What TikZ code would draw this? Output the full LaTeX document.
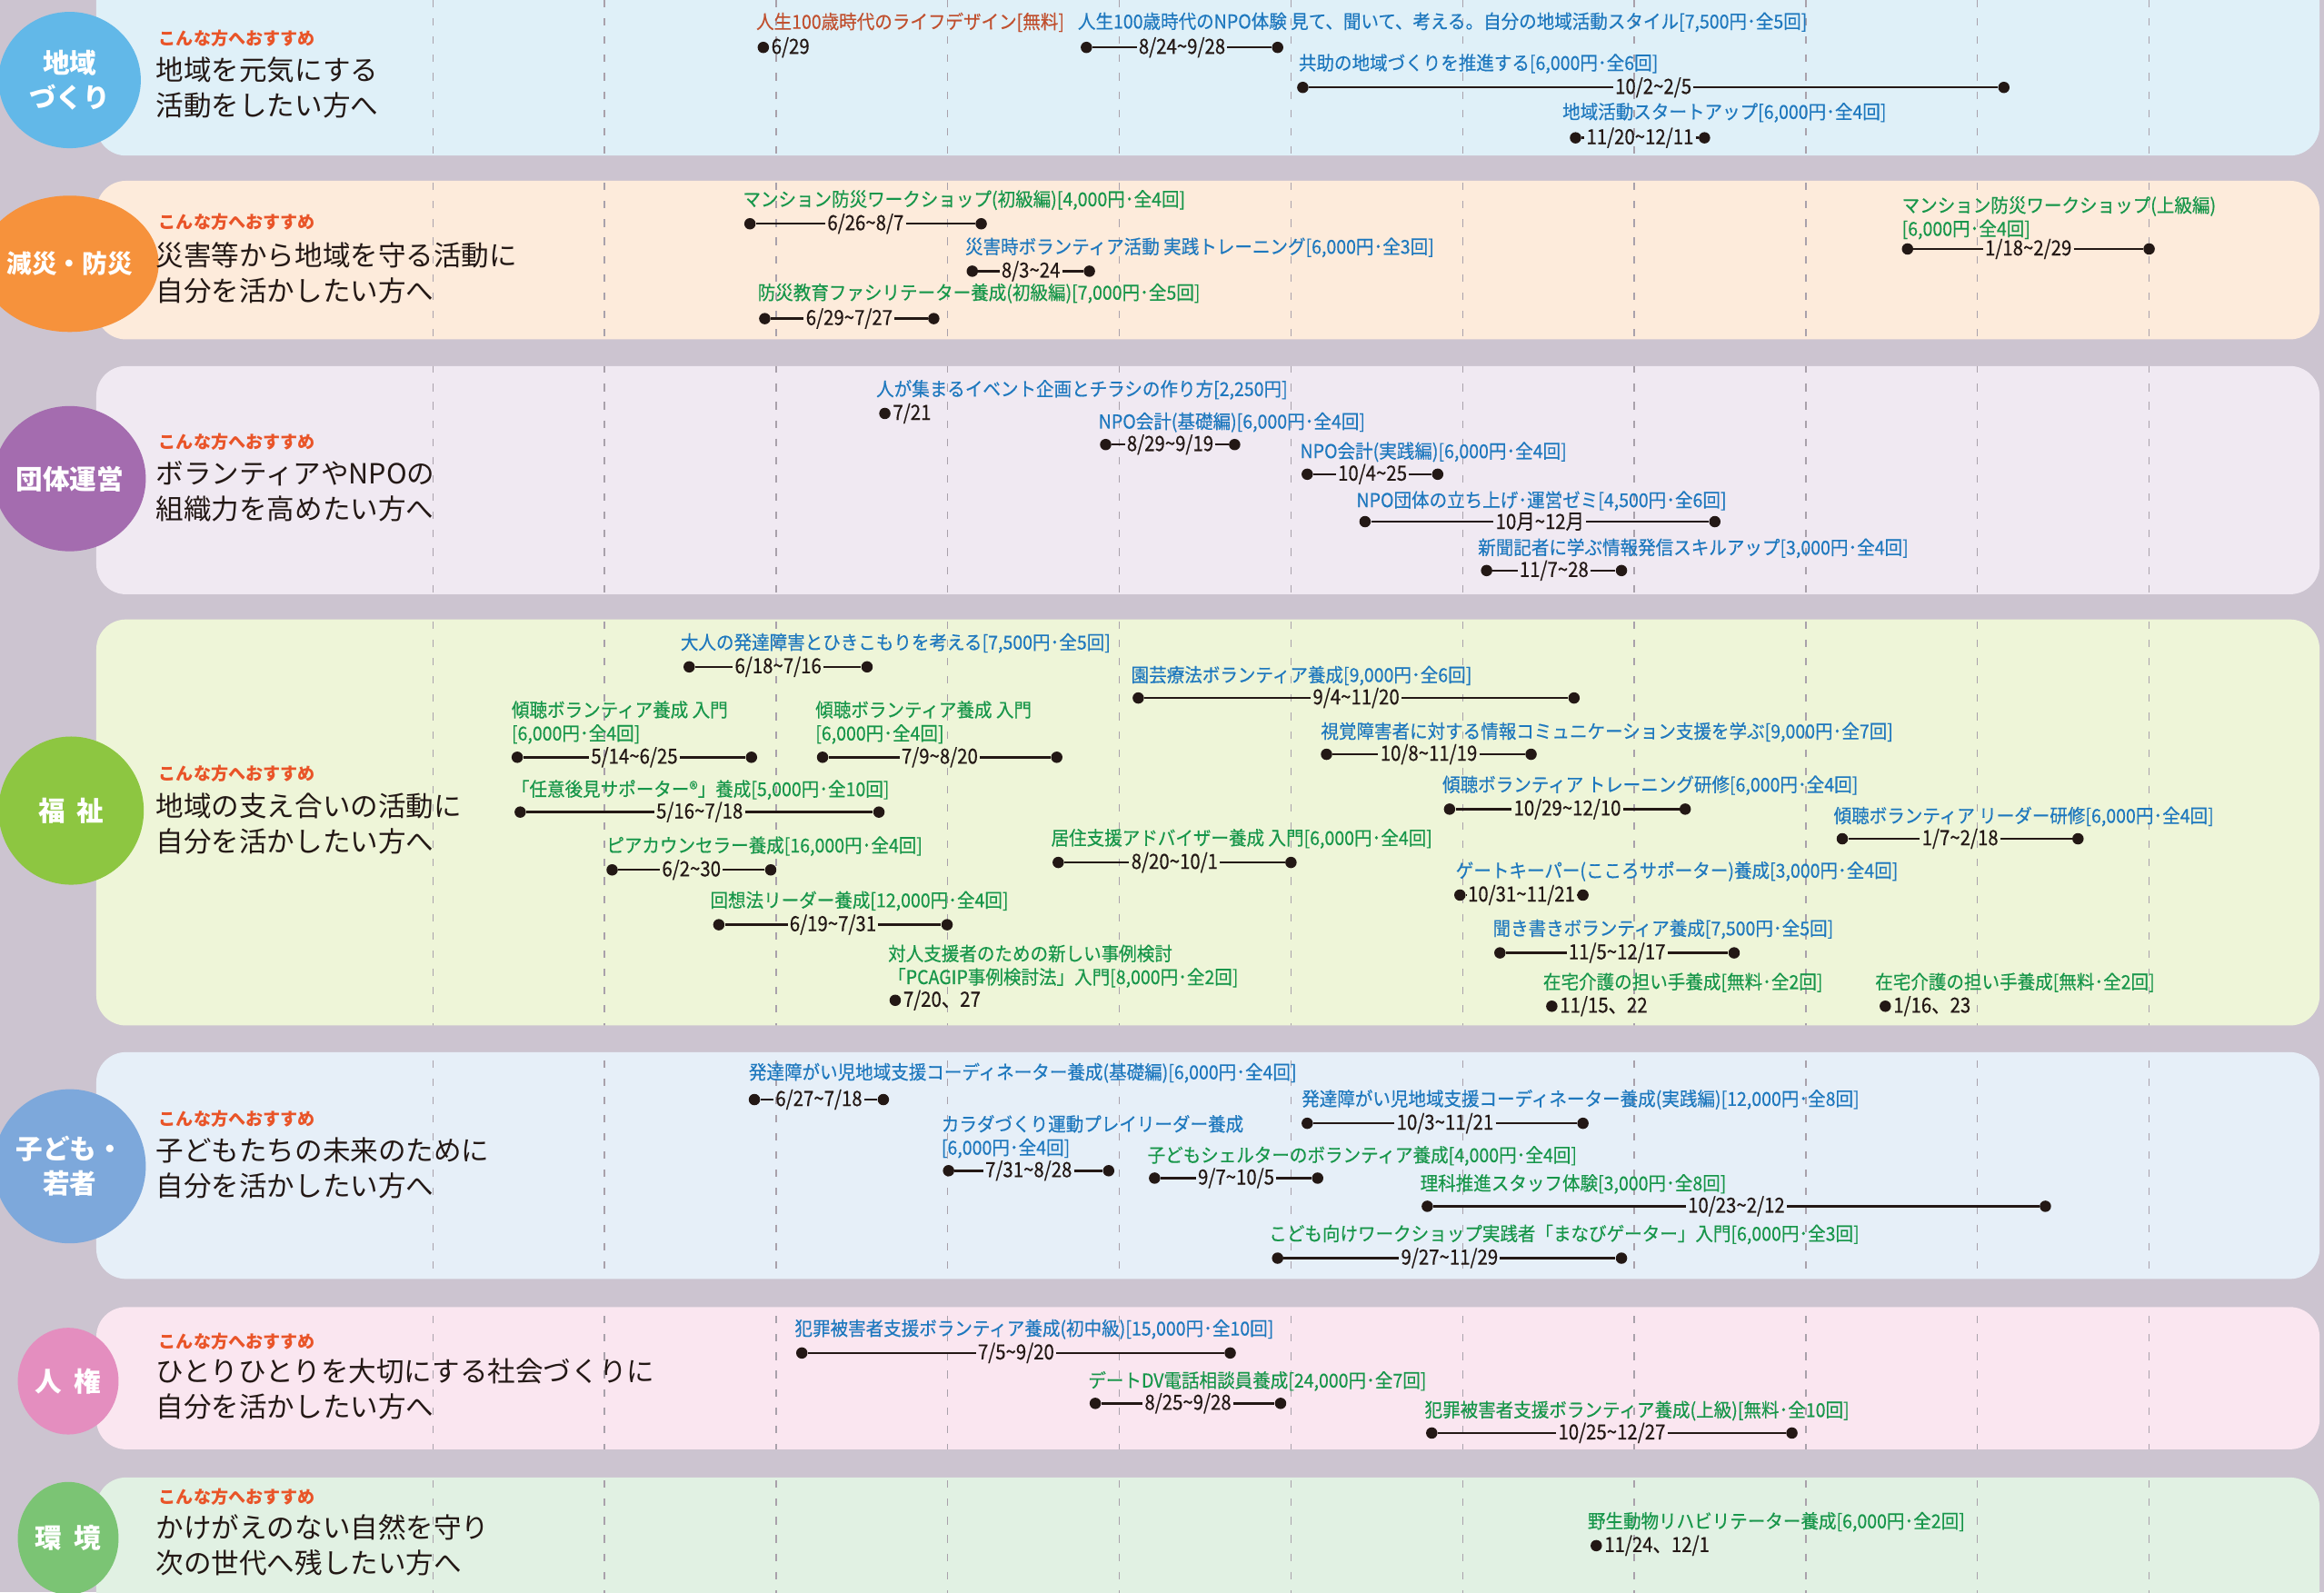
\documentclass[tikz,border=0pt]{standalone}
\usepackage{fontspec}
\setmainfont{Noto Sans CJK JP}
\newfontfamily\coursefont{Noto Sans CJK JP}[FakeStretch=0.93, FakeBold=0.35]
\newfontfamily\datefont{Noto Sans CJK JP}[FakeStretch=0.89, FakeBold=0.4]
\usetikzlibrary{shapes.geometric}
\definecolor{bgc}{HTML}{CCC4D0}
\definecolor{rowA}{HTML}{DFF0F8}
\definecolor{rowB}{HTML}{FDEBDB}
\definecolor{rowC}{HTML}{F0E9F2}
\definecolor{rowD}{HTML}{EEF5D8}
\definecolor{rowE}{HTML}{E6EFF8}
\definecolor{rowF}{HTML}{FAE6F0}
\definecolor{rowG}{HTML}{E1F1E3}
\definecolor{themeA}{HTML}{62B8E8}
\definecolor{themeB}{HTML}{F6923C}
\definecolor{themeC}{HTML}{A46CAF}
\definecolor{themeD}{HTML}{8DC641}
\definecolor{themeE}{HTML}{7DA8DB}
\definecolor{themeF}{HTML}{E48EBF}
\definecolor{themeG}{HTML}{7BC474}
\definecolor{cblue}{HTML}{1E78BE}
\definecolor{cgreen}{HTML}{17964A}
\definecolor{cred}{HTML}{C0502F}
\definecolor{askc}{HTML}{E95428}
\definecolor{inkc}{HTML}{231815}
\definecolor{gridc}{HTML}{A9A1AB}
\begin{document}
\begin{tikzpicture}[x=0.3mm, y=-0.3mm,
        course/.style = {anchor=west, inner sep=0pt, align=left,
                font=\coursefont\fontsize{11}{13.5}\selectfont},
        bullet/.style = {circle, fill=inkc, inner sep=0pt, minimum size=2.3mm},
        datelbl/.style = {inner xsep=1pt, inner ysep=0pt, text=inkc,
                font=\datefont\fontsize{12}{12}\selectfont},
        tline/.style = {draw=inkc, line width=0.45mm},
        theme/.style = {ellipse, inner sep=0pt, text=white, align=center,
                font=\bfseries\fontsize{15.5}{20}\selectfont},
        recom/.style = {anchor=west, inner sep=0pt, text=askc,
                font=\bfseries\fontsize{10}{12}\selectfont},
        target/.style = {anchor=west, inner sep=0pt, align=left, text=inkc,
                font=\fontsize{16}{20.5}\selectfont},
        monthline/.style = {draw=gridc, line width=0.25mm, dash pattern=on 1.5mm off 2.2mm}]
    % background and rows
    \fill[bgc] (0,0) rectangle (1568,1074.4);
    \useasboundingbox (0,0) rectangle (1568,1074.4);
    \fill[rowA, rounded corners=6mm] (65,-40) rectangle (1565,105);
    \fill[rowB, rounded corners=6mm] (65,122) rectangle (1565,229);
    \fill[rowC, rounded corners=6mm] (65,247) rectangle (1565,401);
    \fill[rowD, rounded corners=6mm] (65,418) rectangle (1565,692);
    \fill[rowE, rounded corners=6mm] (65,710) rectangle (1565,863);
    \fill[rowF, rounded corners=6mm] (65,882) rectangle (1565,978);
    \fill[rowG, rounded corners=6mm] (65,997) rectangle (1565,1110);
    \begin{scope}
        \clip[rounded corners=6mm] (65,-40) rectangle (1565,105) (65,122) rectangle (1565,229)
            (65,247) rectangle (1565,401) (65,418) rectangle (1565,692) (65,710) rectangle (1565,863)
            (65,882) rectangle (1565,978) (65,997) rectangle (1565,1110);
        \foreach \k in {0,...,10}
            \draw[monthline] ({292+115.8*\k},0) -- ({292+115.8*\k},1080);
    \end{scope}

    % themes
    \node[theme, fill=themeA, minimum width=28.8mm, minimum height=27.6mm] (thA) at (47,54) {地域\\づくり};
    \node[theme, fill=themeB, minimum width=28.8mm, minimum height=27.6mm,
        font=\bfseries\fontsize{14.5}{20}\selectfont] (thB) at (47,178) {減災・防災};
    \node[theme, fill=themeC, minimum width=29.4mm, minimum height=29.4mm] (thC) at (47,323) {団体運営};
    \node[theme, fill=themeD, minimum width=29.4mm, minimum height=30mm] (thD) at (48,547) {福\hspace{0.45em}祉};
    \node[theme, fill=themeE, minimum width=28.8mm, minimum height=31.2mm] (thE) at (47,787) {子ども・\\若者};
    \node[theme, fill=themeF, minimum width=20.4mm, minimum height=21.6mm] (thF) at (46,932) {人\hspace{0.45em}権};
    \node[theme, fill=themeG, minimum width=20.4mm, minimum height=22.8mm] (thG) at (46,1038) {環\hspace{0.45em}境};

    \node[recom] (rcA) at (107,26) {こんな方へおすすめ};
    \node[target] (tgA) at (105,59) {地域を元気にする\\活動をしたい方へ};
    \node[recom] (rcB) at (107,150) {こんな方へおすすめ};
    \node[target] (tgB) at (105,184) {災害等から地域を守る活動に\\自分を活かしたい方へ};
    \node[recom] (rcC) at (107,298) {こんな方へおすすめ};
    \node[target] (tgC) at (105,331.5) {ボランティアやNPOの\\組織力を高めたい方へ};
    \node[recom] (rcD) at (107,522) {こんな方へおすすめ};
    \node[target] (tgD) at (105,556) {地域の支え合いの活動に\\自分を活かしたい方へ};
    \node[recom] (rcE) at (107,755) {こんな方へおすすめ};
    \node[target] (tgE) at (105,788) {子どもたちの未来のために\\自分を活かしたい方へ};
    \node[recom] (rcF) at (107,905) {こんな方へおすすめ};
    \node[target] (tgF) at (105,937.5) {ひとりひとりを大切にする社会づくりに\\自分を活かしたい方へ};
    \node[recom] (rcG) at (107,1010) {こんな方へおすすめ};
    \node[target] (tgG) at (105,1042.5) {かけがえのない自然を守り\\次の世代へ残したい方へ};

    % 地域づくり
    \node[course, text=cred] (t1) at (510,15) {人生100歳時代のライフデザイン[無料]};
    \node[bullet] (s1) at (515,32) {}; \node[datelbl, anchor=west] (d1) at (s1.east) {6/29};
    \node[course, text=cblue] (t2) at (727,15) {人生100歳時代のNPO体験 見て、聞いて、考える。自分の地域活動スタイル[7,500円･全5回]};
    \node[bullet] (s2) at (733,32) {}; \node[bullet] (e2) at (862,32) {};
    \path (s2) -- node[datelbl] (d2) {8/24\textasciitilde9/28} (e2); \draw[tline] (s2) -- (d2) -- (e2);
    \node[course, text=cblue] (t3) at (876,43) {共助の地域づくりを推進する[6,000円･全6回]};
    \node[bullet] (s3) at (879,59) {}; \node[bullet] (e3) at (1352,59) {};
    \path (s3) -- node[datelbl] (d3) {10/2\textasciitilde2/5} (e3); \draw[tline] (s3) -- (d3) -- (e3);
    \node[course, text=cblue] (t4) at (1054,76) {地域活動スタートアップ[6,000円･全4回]};
    \node[bullet] (s4) at (1063,93) {}; \node[bullet] (e4) at (1150,93) {};
    \path (s4) -- node[datelbl] (d4) {11/20\textasciitilde12/11} (e4); \draw[tline] (s4) -- (d4) -- (e4);

    % 減災・防災
    \node[course, text=cgreen] (t5) at (501,135) {マンション防災ワークショップ(初級編)[4,000円･全4回]};
    \node[bullet] (s5) at (506,151) {}; \node[bullet] (e5) at (662,151) {};
    \path (s5) -- node[datelbl] (d5) {6/26\textasciitilde8/7} (e5); \draw[tline] (s5) -- (d5) -- (e5);
    \node[course, text=cblue] (t6) at (651,167) {災害時ボランティア活動 実践トレーニング[6,000円･全3回]};
    \node[bullet] (s6) at (656,183) {}; \node[bullet] (e6) at (735,183) {};
    \path (s6) -- node[datelbl] (d6) {8/3\textasciitilde24} (e6); \draw[tline] (s6) -- (d6) -- (e6);
    \node[course, text=cgreen] (t7) at (511,198) {防災教育ファシリテーター養成(初級編)[7,000円･全5回]};
    \node[bullet] (s7) at (516,215) {}; \node[bullet] (e7) at (630,215) {};
    \path (s7) -- node[datelbl] (d7) {6/29\textasciitilde7/27} (e7); \draw[tline] (s7) -- (d7) -- (e7);
    \node[course, text=cgreen] (t8) at (1283,147) {マンション防災ワークショップ(上級編)\\{}[6,000円･全4回]};
    \node[bullet] (s8) at (1287,168) {}; \node[bullet] (e8) at (1450,168) {};
    \path (s8) -- node[datelbl] (d8) {1/18\textasciitilde2/29} (e8); \draw[tline] (s8) -- (d8) -- (e8);

    % 団体運営
    \node[course, text=cblue] (t9) at (591,263) {人が集まるイベント企画とチラシの作り方[2,250円]};
    \node[bullet] (s9) at (597,279) {}; \node[datelbl, anchor=west] (d9) at (s9.east) {7/21};
    \node[course, text=cblue] (t10) at (741,285) {NPO会計(基礎編)[6,000円･全4回]};
    \node[bullet] (s10) at (746,300) {}; \node[bullet] (e10) at (833,300) {};
    \path (s10) -- node[datelbl] (d10) {8/29\textasciitilde9/19} (e10); \draw[tline] (s10) -- (d10) -- (e10);
    \node[course, text=cblue] (t11) at (877,305) {NPO会計(実践編)[6,000円･全4回]};
    \node[bullet] (s11) at (882,320) {}; \node[bullet] (e11) at (970,320) {};
    \path (s11) -- node[datelbl] (d11) {10/4\textasciitilde25} (e11); \draw[tline] (s11) -- (d11) -- (e11);
    \node[course, text=cblue] (t12) at (915,338) {NPO団体の立ち上げ･運営ゼミ[4,500円･全6回]};
    \node[bullet] (s12) at (921,352) {}; \node[bullet] (e12) at (1157,352) {};
    \path (s12) -- node[datelbl] (d12) {10月\textasciitilde12月} (e12); \draw[tline] (s12) -- (d12) -- (e12);
    \node[course, text=cblue] (t13) at (997,370) {新聞記者に学ぶ情報発信スキルアップ[3,000円･全4回]};
    \node[bullet] (s13) at (1003,385) {}; \node[bullet] (e13) at (1094,385) {};
    \path (s13) -- node[datelbl] (d13) {11/7\textasciitilde28} (e13); \draw[tline] (s13) -- (d13) -- (e13);

    % 福祉
    \node[course, text=cblue] (t14) at (459,434) {大人の発達障害とひきこもりを考える[7,500円･全5回]};
    \node[bullet] (s14) at (465,450) {}; \node[bullet] (e14) at (585,450) {};
    \path (s14) -- node[datelbl] (d14) {6/18\textasciitilde7/16} (e14); \draw[tline] (s14) -- (d14) -- (e14);
    \node[course, text=cblue] (t15) at (763,456) {園芸療法ボランティア養成[9,000円･全6回]};
    \node[bullet] (s15) at (768,471) {}; \node[bullet] (e15) at (1062,471) {};
    \path (s15) -- node[datelbl] (d15) {9/4\textasciitilde11/20} (e15); \draw[tline] (s15) -- (d15) -- (e15);
    \node[course, text=cgreen] (t16) at (345,487.5) {傾聴ボランティア養成 入門\\{}[6,000円･全4回]};
    \node[bullet] (s16) at (349,511) {}; \node[bullet] (e16) at (507,511) {};
    \path (s16) -- node[datelbl] (d16) {5/14\textasciitilde6/25} (e16); \draw[tline] (s16) -- (d16) -- (e16);
    \node[course, text=cgreen] (t17) at (550,487.5) {傾聴ボランティア養成 入門\\{}[6,000円･全4回]};
    \node[bullet] (s17) at (555,511) {}; \node[bullet] (e17) at (713,511) {};
    \path (s17) -- node[datelbl] (d17) {7/9\textasciitilde8/20} (e17); \draw[tline] (s17) -- (d17) -- (e17);
    \node[course, text=cblue] (t18) at (891,494) {視覚障害者に対する情報コミュニケーション支援を学ぶ[9,000円･全7回]};
    \node[bullet] (s18) at (895,509) {}; \node[bullet] (e18) at (1033,509) {};
    \path (s18) -- node[datelbl] (d18) {10/8\textasciitilde11/19} (e18); \draw[tline] (s18) -- (d18) -- (e18);
    \node[course, text=cgreen] (t19) at (345,533) {「任意後見サポーター®」養成[5,000円･全10回]};
    \node[bullet] (s19) at (351,548) {}; \node[bullet] (e19) at (593,548) {};
    \path (s19) -- node[datelbl] (d19) {5/16\textasciitilde7/18} (e19); \draw[tline] (s19) -- (d19) -- (e19);
    \node[course, text=cblue] (t20) at (973,530) {傾聴ボランティア トレーニング研修[6,000円･全4回]};
    \node[bullet] (s20) at (978,546) {}; \node[bullet] (e20) at (1137,546) {};
    \path (s20) -- node[datelbl] (d20) {10/29\textasciitilde12/10} (e20); \draw[tline] (s20) -- (d20) -- (e20);
    \node[course, text=cblue] (t21) at (1237,551) {傾聴ボランティア リーダー研修[6,000円･全4回]};
    \node[bullet] (s21) at (1243,566) {}; \node[bullet] (e21) at (1402,566) {};
    \path (s21) -- node[datelbl] (d21) {1/7\textasciitilde2/18} (e21); \draw[tline] (s21) -- (d21) -- (e21);
    \node[course, text=cgreen] (t22) at (409,571) {ピアカウンセラー養成[16,000円･全4回]};
    \node[bullet] (s22) at (413,587) {}; \node[bullet] (e22) at (520,587) {};
    \path (s22) -- node[datelbl] (d22) {6/2\textasciitilde30} (e22); \draw[tline] (s22) -- (d22) -- (e22);
    \node[course, text=cgreen] (t23) at (709,566) {居住支援アドバイザー養成 入門[6,000円･全4回]};
    \node[bullet] (s23) at (714,582) {}; \node[bullet] (e23) at (871,582) {};
    \path (s23) -- node[datelbl] (d23) {8/20\textasciitilde10/1} (e23); \draw[tline] (s23) -- (d23) -- (e23);
    \node[course, text=cblue] (t24) at (982,588) {ゲートキーパー(こころサポーター)養成[3,000円･全4回]};
    \node[bullet] (s24) at (985,604) {}; \node[bullet] (e24) at (1068,604) {};
    \path (s24) -- node[datelbl] (d24) {10/31\textasciitilde11/21} (e24); \draw[tline] (s24) -- (d24) -- (e24);
    \node[course, text=cgreen] (t25) at (479,608) {回想法リーダー養成[12,000円･全4回]};
    \node[bullet] (s25) at (485,624) {}; \node[bullet] (e25) at (639,624) {};
    \path (s25) -- node[datelbl] (d25) {6/19\textasciitilde7/31} (e25); \draw[tline] (s25) -- (d25) -- (e25);
    \node[course, text=cblue] (t26) at (1007,627) {聞き書きボランティア養成[7,500円･全5回]};
    \node[bullet] (s26) at (1012,643) {}; \node[bullet] (e26) at (1170,643) {};
    \path (s26) -- node[datelbl] (d26) {11/5\textasciitilde12/17} (e26); \draw[tline] (s26) -- (d26) -- (e26);
    \node[course, text=cgreen] (t27) at (599,652) {対人支援者のための新しい事例検討\\「PCAGIP事例検討法」入門[8,000円･全2回]};
    \node[bullet] (s27) at (604,675) {}; \node[datelbl, anchor=west] (d27) at (s27.east) {7/20、27};
    \node[course, text=cgreen] (t28) at (1041,663) {在宅介護の担い手養成[無料･全2回]};
    \node[bullet] (s28) at (1047,679) {}; \node[datelbl, anchor=west] (d28) at (s28.east) {11/15、22};
    \node[course, text=cgreen] (t29) at (1265,663) {在宅介護の担い手養成[無料･全2回]};
    \node[bullet] (s29) at (1272,679) {}; \node[datelbl, anchor=west] (d29) at (s29.east) {1/16、23};

    % 子ども・若者
    \node[course, text=cblue] (t30) at (505,724) {発達障がい児地域支援コーディネーター養成(基礎編)[6,000円･全4回]};
    \node[bullet] (s30) at (509,742) {}; \node[bullet] (e30) at (596,742) {};
    \path (s30) -- node[datelbl] (d30) {6/27\textasciitilde7/18} (e30); \draw[tline] (s30) -- (d30) -- (e30);
    \node[course, text=cblue] (t31) at (878,742) {発達障がい児地域支援コーディネーター養成(実践編)[12,000円･全8回]};
    \node[bullet] (s31) at (882,758) {}; \node[bullet] (e31) at (1068,758) {};
    \path (s31) -- node[datelbl] (d31) {10/3\textasciitilde11/21} (e31); \draw[tline] (s31) -- (d31) -- (e31);
    \node[course, text=cblue] (t32) at (635,767) {カラダづくり運動プレイリーダー養成\\{}[6,000円･全4回]};
    \node[bullet] (s32) at (640,790) {}; \node[bullet] (e32) at (748,790) {};
    \path (s32) -- node[datelbl] (d32) {7/31\textasciitilde8/28} (e32); \draw[tline] (s32) -- (d32) -- (e32);
    \node[course, text=cgreen] (t33) at (774,780) {子どもシェルターのボランティア養成[4,000円･全4回]};
    \node[bullet] (s33) at (779,795) {}; \node[bullet] (e33) at (889,795) {};
    \path (s33) -- node[datelbl] (d33) {9/7\textasciitilde10/5} (e33); \draw[tline] (s33) -- (d33) -- (e33);
    \node[course, text=cgreen] (t34) at (958,799) {理科推進スタッフ体験[3,000円･全8回]};
    \node[bullet] (s34) at (963,814) {}; \node[bullet] (e34) at (1380,814) {};
    \path (s34) -- node[datelbl] (d34) {10/23\textasciitilde2/12} (e34); \draw[tline] (s34) -- (d34) -- (e34);
    \node[course, text=cgreen] (t35) at (856,833) {こども向けワークショップ実践者「まなびゲーター」入門[6,000円･全3回]};
    \node[bullet] (s35) at (862,849) {}; \node[bullet] (e35) at (1094,849) {};
    \path (s35) -- node[datelbl] (d35) {9/27\textasciitilde11/29} (e35); \draw[tline] (s35) -- (d35) -- (e35);

    % 人権
    \node[course, text=cblue] (t36) at (536,897) {犯罪被害者支援ボランティア養成(初中級)[15,000円･全10回]};
    \node[bullet] (s36) at (541,913) {}; \node[bullet] (e36) at (830,913) {};
    \path (s36) -- node[datelbl] (d36) {7/5\textasciitilde9/20} (e36); \draw[tline] (s36) -- (d36) -- (e36);
    \node[course, text=cgreen] (t37) at (734,932) {デートDV電話相談員養成[24,000円･全7回]};
    \node[bullet] (s37) at (739,947) {}; \node[bullet] (e37) at (864,947) {};
    \path (s37) -- node[datelbl] (d37) {8/25\textasciitilde9/28} (e37); \draw[tline] (s37) -- (d37) -- (e37);
    \node[course, text=cgreen] (t38) at (961,952) {犯罪被害者支援ボランティア養成(上級)[無料･全10回]};
    \node[bullet] (s38) at (966,967) {}; \node[bullet] (e38) at (1209,967) {};
    \path (s38) -- node[datelbl] (d38) {10/25\textasciitilde12/27} (e38); \draw[tline] (s38) -- (d38) -- (e38);

    % 環境
    \node[course, text=cgreen] (t39) at (1071,1027) {野生動物リハビリテーター養成[6,000円･全2回]};
    \node[bullet] (s39) at (1077,1043) {}; \node[datelbl, anchor=west] (d39) at (s39.east) {11/24、12/1};
\end{tikzpicture}
\end{document}
